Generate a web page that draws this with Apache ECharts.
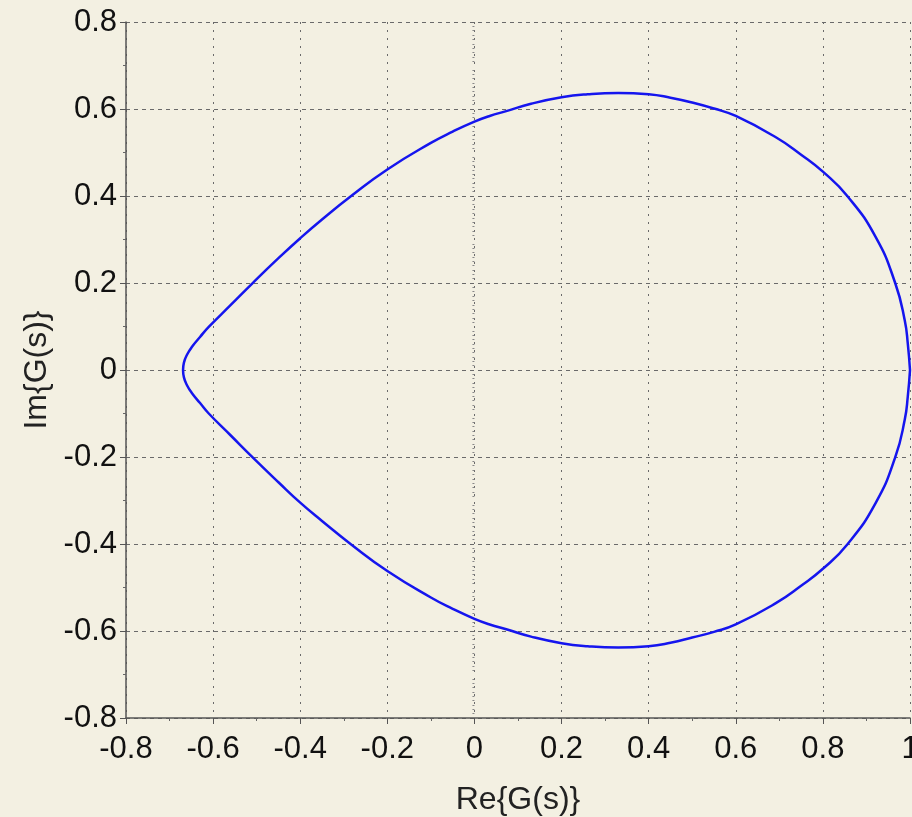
<!DOCTYPE html>
<html>
<head>
<meta charset="utf-8">
<script src="https://cdn.jsdelivr.net/npm/echarts@6/dist/echarts.min.js"></script>
<style>
  html, body { margin: 0; padding: 0; background: #f3f0e2; }
  #chart { width: 912px; height: 817px; }
</style>
</head>
<body>
<div id="chart"></div>
<script>
// Nyquist curve: starts at 1, over the top, round the tip at -0.67, back underneath
const reVals = [1.0, 0.995, 0.988, 0.966, 0.921, 0.856, 0.8, 0.75, 0.692, 0.6, 0.55, 0.5, 0.45, 0.4, 0.33, 0.26, 0.2, 0.13,
  0.073, 0.035, 0.0, -0.05, -0.1, -0.2, -0.283, -0.35, -0.4, -0.45, -0.508, -0.56, -0.61, -0.63, -0.648, -0.66, -0.667, -0.669,
  -0.667, -0.66, -0.648, -0.63, -0.61, -0.56, -0.508, -0.45, -0.4, -0.35, -0.283, -0.2, -0.1, -0.05, 0.0, 0.035, 0.073,
  0.13, 0.2, 0.26, 0.33, 0.4, 0.45, 0.5, 0.55, 0.6, 0.692, 0.75, 0.8, 0.856, 0.921, 0.966, 0.988, 0.995, 1.0];
const imVals = [0.0, 0.06, 0.114, 0.2, 0.306, 0.4, 0.456, 0.495, 0.535, 0.584, 0.601, 0.615, 0.626, 0.634, 0.637, 0.634, 0.627, 0.612,
  0.595, 0.584, 0.571, 0.548, 0.522, 0.461, 0.4, 0.346, 0.303, 0.257, 0.201, 0.149, 0.099, 0.076, 0.054, 0.035, 0.017, 0.0,
  -0.017, -0.035, -0.054, -0.076, -0.1, -0.15, -0.202, -0.258, -0.305, -0.347, -0.401, -0.462, -0.523, -0.549, -0.572, -0.585, -0.596,
  -0.613, -0.628, -0.635, -0.638, -0.635, -0.627, -0.615, -0.602, -0.585, -0.536, -0.496, -0.457, -0.401, -0.306, -0.201, -0.114, -0.06, 0.0];

const xMin = -0.8, xMax = 1, yMin = -0.8, yMax = 0.8, step = 0.2;

const chart = echarts.init(document.getElementById('chart'));

const font = 'Liberation Sans, Arial, sans-serif';
const axisCommon = {
  type: 'value',
  interval: step,
  nameLocation: 'middle',
  nameTextStyle: { fontSize: 32, color: '#222', fontFamily: font },
  axisLine: { show: true, onZero: false, lineStyle: { color: '#555', width: 1.5 } },
  axisLabel: { fontSize: 31, color: '#111', fontFamily: font },
  axisTick: { show: true, length: 6, lineStyle: { color: '#555' } },
  minorTick: { show: true, splitNumber: 2, length: 3, lineStyle: { color: '#666' } },
};

chart.setOption({
  backgroundColor: '#f3f0e2',
  animation: false,
  grid: { left: 126, right: 2, top: 22, bottom: 99, outerBoundsMode: 'none' },
  xAxis: Object.assign({}, axisCommon, {
    min: xMin, max: xMax,
    name: 'Re{G(s)}', nameGap: 66,
    axisLabel: Object.assign({}, axisCommon.axisLabel, { margin: 16 }),
    splitLine: { show: true, lineStyle: { color: '#6a6a6a', type: [2, 6] } },
  }),
  yAxis: [
    Object.assign({}, axisCommon, {
      min: yMin, max: yMax,
      name: 'Im{G(s)}', nameGap: 73,
      axisLabel: Object.assign({}, axisCommon.axisLabel, { margin: 9 }),
      splitLine: { show: true, lineStyle: { color: '#6a6a6a', type: [4, 4] } },
    }),
    // dense little ticks along the y axis line
    {
      type: 'value', min: yMin, max: yMax, interval: 0.1, position: 'left',
      axisLine: { show: false }, axisLabel: { show: false }, splitLine: { show: false },
      axisTick: { show: false },
      minorTick: { show: true, splitNumber: 10, length: 2, lineStyle: { color: '#888' } },
    },
  ],
  series: [{
    type: 'line',
    data: reVals.map((r, i) => [r, imVals[i]]),
    showSymbol: false,
    smooth: 0.5,
    clip: false,
    lineStyle: { color: '#1515ee', width: 2.5 },
  }],
});
</script>
</body>
</html>
